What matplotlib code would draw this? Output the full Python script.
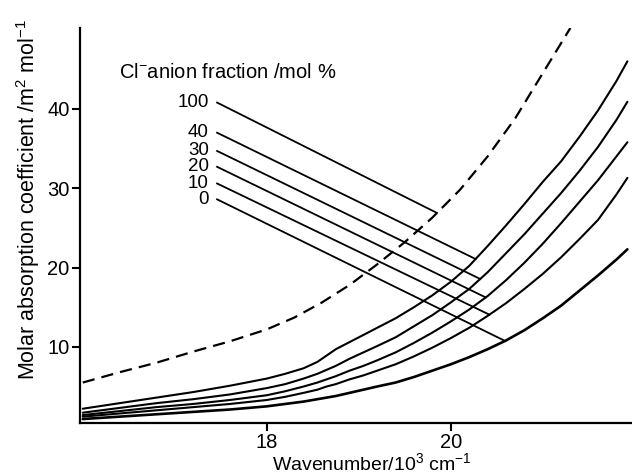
import numpy as np
import matplotlib
matplotlib.use('Agg')
import matplotlib.pyplot as plt

plt.rcParams['font.family'] = ['Liberation Sans', 'DejaVu Sans']
plt.rcParams['mathtext.fontset'] = 'custom'
plt.rcParams['mathtext.rm'] = 'Liberation Sans'
plt.rcParams['mathtext.default'] = 'regular'

# wavenumber / 10^3 cm^-1 for the solid curves
wn = [16.0, 16.4, 16.8, 17.2, 17.6, 18.0, 18.2, 18.4, 18.55, 18.65,
      18.75, 18.9, 19.05, 19.2, 19.4, 19.6, 19.8, 20.0, 20.2, 20.4,
      20.6, 20.8, 21.0, 21.2, 21.4, 21.6, 21.8, 21.92]

# molar absorption coefficient / m^2 mol^-1, one list per Cl- fraction
eps_40 = [2.2, 2.9, 3.6, 4.3, 5.1, 6.0, 6.6, 7.3, 8.1, 8.9,
          9.7, 10.6, 11.5, 12.4, 13.6, 15.0, 16.5, 18.2, 20.2, 22.7,
          25.3, 28.0, 30.8, 33.4, 36.5, 39.8, 43.5, 46.0]
eps_30 = [1.7, 2.3, 2.9, 3.4, 4.0, 4.8, 5.3, 6.0, 6.6, 7.1,
          7.6, 8.5, 9.3, 10.1, 11.2, 12.6, 14.0, 15.6, 17.3, 19.4,
          21.8, 24.2, 26.8, 29.4, 32.2, 35.2, 38.6, 40.9]
eps_20 = [1.4, 1.9, 2.4, 2.8, 3.3, 3.9, 4.4, 5.0, 5.5, 5.9,
          6.3, 7.0, 7.6, 8.3, 9.3, 10.5, 11.8, 13.2, 14.7, 16.4,
          18.4, 20.6, 23.0, 25.6, 28.3, 31.0, 34.0, 35.8]
eps_10 = [1.2, 1.6, 2.0, 2.4, 2.8, 3.3, 3.7, 4.2, 4.6, 5.0,
          5.3, 5.9, 6.4, 7.0, 7.8, 8.8, 9.9, 11.1, 12.4, 13.9,
          15.5, 17.3, 19.2, 21.3, 23.6, 26.0, 29.2, 31.3]
eps_0 = [0.9, 1.2, 1.5, 1.8, 2.1, 2.5, 2.8, 3.1, 3.4, 3.6,
         3.8, 4.2, 4.6, 5.0, 5.5, 6.2, 7.0, 7.8, 8.7, 9.7,
         10.8, 12.1, 13.6, 15.2, 17.1, 19.0, 21.0, 22.3]

# 100 % Cl- (dashed)
wn_100 = [16.0, 16.4, 16.8, 17.2, 17.6, 18.0, 18.3, 18.6, 18.9, 19.2,
          19.5, 19.8, 20.1, 20.4, 20.7, 21.0, 21.3]
eps_100 = [5.5, 6.8, 8.0, 9.4, 10.7, 12.2, 13.7, 15.6, 17.8, 20.4,
           23.2, 26.3, 29.8, 34.0, 38.8, 44.5, 50.2]

labels = ['100', '40', '30', '20', '10', '0']

fig = plt.figure(figsize=(6.32, 4.74), dpi=100)
ax = fig.add_axes([0.1266, 0.1076, 0.8734, 0.8333])

solids = [eps_40, eps_30, eps_20, eps_10, eps_0]
for i, e in enumerate(solids):
    ax.plot(wn, e, color='k', lw=1.9 if i == 4 else 1.5, solid_capstyle='round')
ax.plot(wn_100, eps_100, color='k', lw=1.6, ls=(0, (5.5, 3.2)))

# leader lines from the labels to the curves
lab_y = [40.8, 37.0, 34.7, 32.7, 30.6, 28.6]
end_x = [19.85, 20.27, 20.32, 20.38, 20.42, 20.59]
curves = [(wn_100, eps_100)] + [(wn, e) for e in solids]
for lab, ly, ex, (cx, cy) in zip(labels, lab_y, end_x, curves):
    ey = np.interp(ex, cx, cy)
    ax.plot([17.46, ex], [ly, ey], color='k', lw=1.3)
    ax.text(17.37, ly, lab, ha='right', va='center', fontsize=13.5)

ax.text(16.39, 44.6, r'Cl$^{-}$anion fraction /mol %', fontsize=14.5, va='center')

ax.set_xlim(15.97, 21.97)
ax.set_ylim(0.4, 50.2)
ax.set_xticks([18, 20])
ax.set_yticks([10, 20, 30, 40])
ax.spines['top'].set_visible(False)
ax.spines['right'].set_visible(False)
for s in ['left', 'bottom']:
    ax.spines[s].set_linewidth(1.6)
ax.tick_params(direction='out', length=6, width=1.5, pad=1.5, labelsize=14.5)

ax.set_xlabel(r'Wavenumber/10$^3$ cm$^{-1}$', fontsize=14)
ax.set_ylabel(r'Molar absorption coefficient /m$^2$ mol$^{-1}$', fontsize=15.5)
ax.xaxis.set_label_coords(0.529, -0.074)
ax.yaxis.set_label_coords(-0.069, 0.565)

fig.savefig('out.png', dpi=100)
